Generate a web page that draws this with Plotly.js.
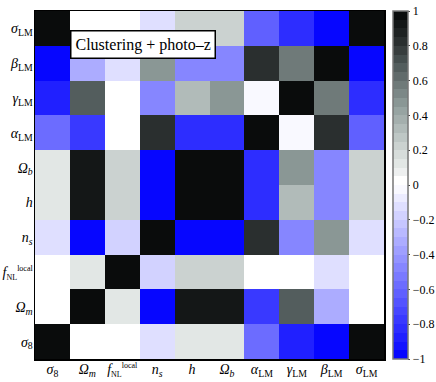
<!DOCTYPE html>
<html>
<head>
<meta charset="utf-8">
<script src="https://cdn.plot.ly/plotly-3.0.1.min.js"></script>
<style>
  html, body { margin: 0; padding: 0; background: #fff; }
  #chart { width: 436px; height: 382px; }
</style>
</head>
<body>
<div id="chart"></div>
<script>
// Parameter order (x left->right, y bottom->top)
const paramLabels = [
    '<i>σ</i><sub>8</sub>',
    '<i>Ω</i><sub><i>m</i></sub>',
    '<i>f</i><sub><span style="font-size:8px">NL</span></sub><sup><span style="font-size:8px">local</span></sup>',
    '<i>n</i><sub><i>s</i></sub>',
    '<i>h</i>',
    '<i>Ω</i><sub><i>b</i></sub>',
    '<i>α</i><sub>LM</sub>',
    '<i>γ</i><sub>LM</sub>',
    '<i>β</i><sub>LM</sub>',
    '<i>σ</i><sub>LM</sub>'
];

// Correlation rows, same order as paramLabels
const rowSigma8 = [1, 0, 0, -0.1, 0.12, 0.12, -0.6, -0.87, -0.98, 0.95];
const rowOmegaM = [0, 1, 0.12, -0.97, 0.9, 0.9, -0.8, 0.65, -0.35, 0];
const rowFnl    = [0, 0.12, 1, -0.17, 0.2, 0.2, 0, 0, -0.1, 0];
const rowNs     = [-0.1, -0.97, -0.17, 1, -0.98, -0.97, 0.85, -0.5, 0.45, -0.15];
const rowH      = [0.12, 0.9, 0.2, -0.98, 1, 0.97, -0.85, 0.35, -0.5, 0.2];
const rowOmegaB = [0.12, 0.9, 0.2, -0.97, 0.97, 1, -0.85, 0.45, -0.5, 0.2];
const rowAlpha  = [-0.6, -0.8, 0, 0.85, -0.85, -0.85, 1, -0.05, 0.85, -0.65];
const rowGamma  = [-0.87, 0.65, 0, -0.5, 0.35, 0.45, -0.05, 1, 0.6, -0.85];
const rowBeta   = [-0.98, -0.35, -0.1, 0.45, -0.5, -0.5, 0.85, 0.6, 1, -0.98];
const rowSigLM  = [0.95, 0, 0, -0.15, 0.2, 0.2, -0.65, -0.85, -0.98, 1];

const zRows = [rowSigma8, rowOmegaM, rowFnl, rowNs, rowH, rowOmegaB, rowAlpha, rowGamma, rowBeta, rowSigLM];

const cbTicks = [-1, -0.8, -0.6, -0.4, -0.2, 0, 0.2, 0.4, 0.6, 0.8, 1];

// Colour map: white -> blue for negatives, white -> grey/black for positives
const posAnchors = [
    [0, [255, 255, 255]],
    [0.2, [209, 216, 214]],
    [0.45, [145, 158, 156]],
    [0.65, [90, 100, 100]],
    [0.85, [35, 40, 40]],
    [1, [5, 6, 6]]
];

function colorAt(v) {
    if (v < 0) {
        const c = Math.round(255 * (1 + v));
        return `rgb(${c},${c},255)`;
    }
    for (let i = 1; i < posAnchors.length; i++) {
        const [v1, c1] = posAnchors[i];
        const [v0, c0] = posAnchors[i - 1];
        if (v <= v1) {
            const t = (v - v0) / (v1 - v0);
            const c = c0.map((a, k) => Math.round(a + t * (c1[k] - a)));
            return `rgb(${c[0]},${c[1]},${c[2]})`;
        }
    }
    return 'rgb(5,6,6)';
}

// 40 discrete bands
const nBands = 40;
const colorscale = [];
for (let k = 0; k < nBands; k++) {
    const lo = -1 + 2 * k / nBands;
    const mid = lo + 1 / nBands;
    const col = (k === nBands / 2) ? 'rgb(255,255,255)' : colorAt(mid);
    colorscale.push([k / nBands, col]);
    colorscale.push([(k + 1) / nBands, col]);
}

const idx = paramLabels.map((_, i) => i);

// plot area 35..384 px, colourbar starts at 393 px
const plotW = 436 - 35;
const trace = {
    type: 'heatmap',
    x: idx,
    y: idx,
    z: zRows,
    zmin: -1,
    zmax: 1,
    colorscale: colorscale,
    hoverinfo: 'z',
    colorbar: {
        x: 358 / plotW,
        xanchor: 'left',
        xpad: 0,
        y: 0.5,
        yanchor: 'middle',
        len: 1.0,
        ypad: 0,
        thickness: 15,
        outlinecolor: '#777',
        outlinewidth: 1.5,
        tickvals: cbTicks,
        ticks: 'outside',
        ticklen: 2,
        tickcolor: '#444',
        tickfont: { family: 'Liberation Serif, serif', size: 12, color: '#000' }
    }
};

const axisBase = {
    tickvals: idx,
    ticktext: paramLabels,
    showgrid: false,
    zeroline: false,
    showline: true,
    mirror: true,
    linecolor: '#000',
    linewidth: 1.5,
    ticks: '',
    tickfont: { family: 'Liberation Serif, serif', size: 14, color: '#000' }
};

const layout = {
    width: 436,
    height: 382,
    margin: { l: 35, r: 0, t: 11, b: 23 },
    paper_bgcolor: '#fff',
    plot_bgcolor: '#fff',
    xaxis: Object.assign({}, axisBase, { range: [-0.5, 9.5], domain: [0, 349 / plotW], ticklabelstandoff: -3 }),
    yaxis: Object.assign({}, axisBase, { range: [-0.5, 9.5], ticklabelstandoff: -2 }),
    annotations: [{
        text: 'Clustering + photo\u2013z',
        xref: 'x domain', yref: 'paper',
        x: 0.31, y: 0.905,
        xanchor: 'center', yanchor: 'middle',
        showarrow: false,
        bgcolor: '#fff',
        bordercolor: '#000',
        borderwidth: 1.5,
        borderpad: 4,
        font: { family: 'Liberation Serif, serif', size: 16, color: '#000' }
    }]
};

Plotly.newPlot('chart', [trace], layout, { displayModeBar: false, staticPlot: true });
</script>
</body>
</html>
